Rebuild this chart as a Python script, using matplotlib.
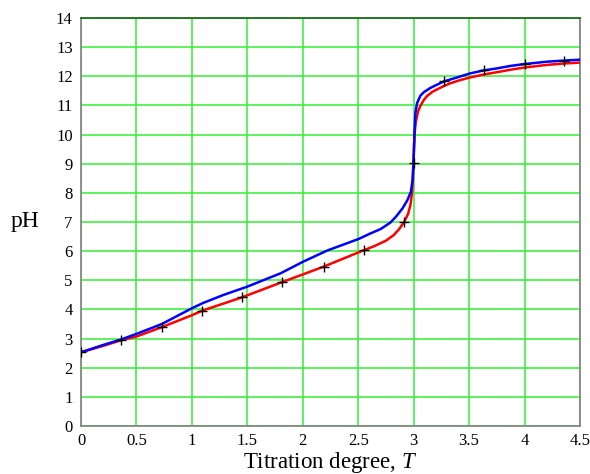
import numpy as np
import matplotlib
matplotlib.use("Agg")
import matplotlib.pyplot as plt

plt.rcParams['font.family'] = ['Liberation Serif', 'DejaVu Serif']
plt.rcParams['mathtext.fontset'] = 'custom'
plt.rcParams['mathtext.rm'] = 'Liberation Serif'
plt.rcParams['mathtext.it'] = 'Liberation Serif:italic'

# Curva calculada (vermelha)
t_red = [0.0, 0.2, 0.36, 0.5, 0.727, 1.0, 1.094, 1.3, 1.455, 1.65, 1.815, 2.0,
         2.19, 2.35, 2.55, 2.65, 2.75, 2.82, 2.87, 2.914, 2.95, 2.972, 2.985,
         2.993, 2.998, 3.003, 3.01, 3.02, 3.04, 3.06, 3.09, 3.12, 3.17, 3.21,
         3.27, 3.33, 3.42, 3.51, 3.63, 3.75, 3.88, 4.0, 4.2, 4.36, 4.5]
ph_red = [2.53, 2.75, 2.94, 3.07, 3.39, 3.80, 3.96, 4.22, 4.42, 4.70, 4.94, 5.20,
          5.47, 5.72, 6.03, 6.18, 6.36, 6.55, 6.76, 7.00, 7.28, 7.60, 8.00,
          8.45, 9.00, 9.60, 10.10, 10.45, 10.80, 10.98, 11.18, 11.32, 11.47, 11.55,
          11.66, 11.76, 11.87, 11.96, 12.06, 12.14, 12.23, 12.30, 12.39, 12.44, 12.47]

# Curva calculada (azul)
t_blue = [0.0, 0.2, 0.362, 0.5, 0.729, 1.0, 1.1, 1.287, 1.498, 1.8, 2.004, 2.22,
          2.505, 2.6, 2.703, 2.79, 2.84, 2.9, 2.945, 2.975, 2.99, 2.998, 3.004,
          3.008, 3.015, 3.03, 3.06, 3.09, 3.15, 3.27, 3.4, 3.51, 3.63, 3.75,
          3.88, 4.0, 4.2, 4.36, 4.5]
ph_blue = [2.53, 2.78, 2.97, 3.16, 3.50, 4.04, 4.22, 4.50, 4.78, 5.24, 5.64, 6.02,
           6.42, 6.59, 6.76, 6.98, 7.18, 7.47, 7.76, 8.04, 8.44, 9.00, 9.60,
           10.15, 10.72, 11.07, 11.33, 11.45, 11.60, 11.82, 11.97, 12.10, 12.20, 12.27,
           12.36, 12.42, 12.50, 12.54, 12.57]

# Pontos experimentais
t_exp = [0.0, 0.36, 0.727, 1.094, 1.455, 1.815, 2.19, 2.55, 2.914, 3.0,
         3.27, 3.636, 4.0, 4.36]
ph_exp = [2.53, 2.94, 3.39, 3.96, 4.42, 4.94, 5.47, 6.04, 7.0, 9.03,
          11.85, 12.22, 12.42, 12.54]

x_ticks = [0, 0.5, 1, 1.5, 2, 2.5, 3, 3.5, 4, 4.5]
x_labels = ['0', '0.5', '1', '1.5', '2', '2.5', '3', '3.5', '4', '4.5']
y_ticks = list(range(0, 15))

fig = plt.figure(figsize=(5.9, 4.74), dpi=100)
ax = fig.add_axes([81/590, 1 - 426/474, 499/590, 408/474])

ax.plot(t_red, ph_red, color='#ff0000', lw=1.8, zorder=3)
ax.plot(t_blue, ph_blue, color='#0000ff', lw=1.8, zorder=4)
ax.plot(t_exp, ph_exp, ls='none', marker='+', ms=7, mew=1.0, color='black', zorder=5)

ax.set_xlim(0, 4.5)
ax.set_ylim(0, 14)
ax.set_xticks(x_ticks)
ax.set_xticklabels(x_labels)
ax.set_yticks(y_ticks)
ax.tick_params(axis='both', length=0, labelsize=12)
ax.tick_params(axis='x', pad=5)
ax.tick_params(axis='y', pad=6)

ax.grid(True, color='#33ee33', lw=1.1)
ax.set_axisbelow(True)
for side in ['left', 'bottom', 'right']:
    ax.spines[side].set_color('#808080')
    ax.spines[side].set_linewidth(1.2)
ax.spines['top'].set_color('#106010')
ax.spines['top'].set_linewidth(1.2)

ax.set_xlabel('Titration degree, $T$', fontsize=16.5, labelpad=1)
ax.set_ylabel('pH', fontsize=17, rotation=0, labelpad=22, va='center')

fig.savefig('out.png', dpi=100)
